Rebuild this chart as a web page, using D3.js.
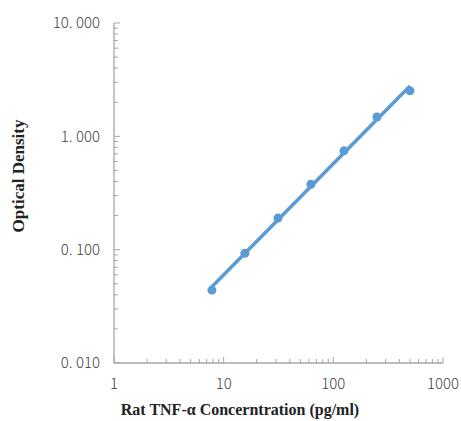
<!DOCTYPE html>
<html>
<head>
<meta charset="utf-8">
<script src="https://cdn.jsdelivr.net/npm/d3@7"></script>
<style>
  body { margin: 0; background: #fff; }
</style>
</head>
<body>
<div id="chart-area"></div>
<script>
// standard curve data
const conc = [7.8125, 15.625, 31.25, 62.5, 125, 250, 500]
const od = [0.044, 0.093, 0.19, 0.378, 0.745, 1.48, 2.52]
const xTicks = [1, 10, 100, 1000]
const yTicks = [0.01, 0.1, 1, 10]
const xTickLabels = ["1", "10", "100", "1000"]
const yTickLabels = ["0. 010", "0. 100", "1. 000", "10. 000"]

const W = 461, H = 421
const MARGIN = { LEFT: 114, TOP: 23, RIGHT: 18, BOTTOM: 58 }

const svg = d3.select("#chart-area").append("svg")
  .attr("width", W)
  .attr("height", H)

const x = d3.scaleLog()
  .domain([1, 1000])
  .range([MARGIN.LEFT, W - MARGIN.RIGHT])

const y = d3.scaleLog()
  .domain([0.01, 10])
  .range([H - MARGIN.BOTTOM, MARGIN.TOP])

const axisColor = "#a6a6a6"
const tickFont = "Noto Sans CJK SC"

// minor ticks (2..9 of every decade)
const minorX = []
const minorY = []
for (let d = 1; d < 1000; d *= 10) for (let k = 2; k < 10; k++) minorX.push(d * k)
for (let d = 0.01; d < 9; d *= 10) for (let k = 2; k < 10; k++) minorY.push(d * k)

// x axis
const xAxis = svg.append("g")
  .attr("transform", `translate(0, ${y(0.01)})`)
xAxis.append("line")
  .attr("x1", x(1)).attr("x2", x(1000))
  .attr("stroke", axisColor).attr("stroke-width", 1.3)
xAxis.selectAll(".minor").data(minorX).enter().append("line")
  .attr("x1", d => x(d)).attr("x2", d => x(d))
  .attr("y1", 0).attr("y2", -4)
  .attr("stroke", axisColor)
xAxis.selectAll(".major").data(xTicks).enter().append("line")
  .attr("x1", d => x(d)).attr("x2", d => x(d))
  .attr("y1", 0).attr("y2", -6)
  .attr("stroke", axisColor)
xAxis.selectAll("text").data(xTicks).enter().append("text")
  .attr("x", d => x(d))
  .attr("y", 26)
  .attr("text-anchor", "middle")
  .attr("font-family", tickFont)
  .attr("font-size", "15px")
  .attr("font-weight", 300)
  .attr("fill", "#404040")
  .text((d, i) => xTickLabels[i])

// y axis
const yAxis = svg.append("g")
  .attr("transform", `translate(${x(1)}, 0)`)
yAxis.append("line")
  .attr("y1", y(0.01)).attr("y2", y(10))
  .attr("stroke", axisColor).attr("stroke-width", 1.3)
yAxis.selectAll(".minor").data(minorY).enter().append("line")
  .attr("y1", d => y(d)).attr("y2", d => y(d))
  .attr("x1", 0).attr("x2", 4)
  .attr("stroke", axisColor)
yAxis.selectAll(".major").data(yTicks).enter().append("line")
  .attr("y1", d => y(d)).attr("y2", d => y(d))
  .attr("x1", 0).attr("x2", 6)
  .attr("stroke", axisColor)
yAxis.selectAll("text").data(yTicks).enter().append("text")
  .attr("x", -14)
  .attr("y", d => y(d))
  .attr("dy", "0.35em")
  .attr("text-anchor", "end")
  .attr("font-family", tickFont)
  .attr("font-size", "15px")
  .attr("font-weight", 300)
  .attr("fill", "#404040")
  .text((d, i) => yTickLabels[i])

// power trendline fitted to the points (log-log least squares)
const lx = conc.map(Math.log10), ly = od.map(Math.log10)
const mx = d3.mean(lx), my = d3.mean(ly)
const b = d3.sum(lx, (v, i) => (v - mx) * (ly[i] - my)) / d3.sum(lx, v => (v - mx) * (v - mx))
const a = my - b * mx
const fit = c => Math.pow(10, a + b * Math.log10(c))
const ends = [conc[0], conc[conc.length - 1]]

svg.append("line")
  .attr("x1", x(ends[0])).attr("y1", y(fit(ends[0])))
  .attr("x2", x(ends[1])).attr("y2", y(fit(ends[1])))
  .attr("stroke", "#5b9bd5")
  .attr("stroke-width", 3.5)

svg.selectAll("circle").data(conc).enter().append("circle")
  .attr("cx", d => x(d))
  .attr("cy", (d, i) => y(od[i]))
  .attr("r", 4.5)
  .attr("fill", "#5b9bd5")

// axis titles
svg.append("text")
  .attr("x", 240)
  .attr("y", 415)
  .attr("text-anchor", "middle")
  .attr("font-family", "Liberation Serif")
  .attr("font-weight", "bold")
  .attr("font-size", "16px")
  .attr("fill", "#222")
  .text("Rat TNF-α Concerntration (pg/ml)")

svg.append("text")
  .attr("transform", "translate(24, 176) rotate(-90)")
  .attr("text-anchor", "middle")
  .attr("font-family", "Liberation Serif")
  .attr("font-weight", "bold")
  .attr("font-size", "17px")
  .attr("fill", "#222")
  .text("Optical Density")
</script>
</body>
</html>
